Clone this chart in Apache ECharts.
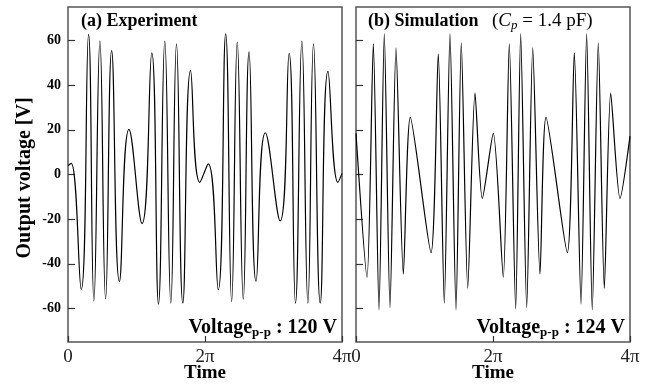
<!DOCTYPE html>
<html>
<head>
<meta charset="utf-8">
<script src="https://cdn.jsdelivr.net/npm/echarts@6/dist/echarts.min.js"></script>
<style>
  html, body { margin: 0; padding: 0; background: #fff; }
  #chart { width: 645px; height: 385px; }
</style>
</head>
<body>
<div id="chart"></div>
<script>
// time in units of pi, voltage in V (extrema of each trace)
const expTime = [0, 0.047, 0.193, 0.300, 0.378, 0.466, 0.549, 0.637, 0.750, 0.890, 1.081, 1.223, 1.321, 1.413, 1.501, 1.584, 1.676, 1.789, 1.925,
    2.047, 2.193, 2.302, 2.389, 2.471, 2.559, 2.643, 2.745, 2.881, 3.097, 3.228, 3.321, 3.414, 3.502, 3.584, 3.682, 3.795, 3.941, 4.0];
const expVolt = [4, 5, -51.5, 62.7, -56.6, 59.7, -55.7, 55.5, -47.9, 20.2, -22, 54.5, -58, 59.7, -57.6, 58.5, -57.6, 46.5, -3.5,
    4.8, -51.6, 63, -56.9, 59.3, -55.8, 54.9, -47.9, 18.7, -20.8, 54.2, -57.6, 59.7, -57.6, 58.5, -57.6, 46.2, -3.5, 0.5];

const simTime = [0, 0.161, 0.253, 0.336, 0.413, 0.496, 0.584, 0.691, 0.793, 1.095, 1.201, 1.289, 1.372, 1.460, 1.537, 1.631, 1.737, 1.844,
    2.004, 2.150, 2.238, 2.331, 2.404, 2.492, 2.580, 2.686, 2.774, 3.085, 3.187, 3.285, 3.367, 3.449, 3.537, 3.625, 3.718, 3.854, 4.0];
const simVolt = [18.4, -46, 58.5, -60.6, 63, -59.6, 56.7, -44.6, 25.6, -35, 54, -57.6, 63, -60.6, 59, -50.9, 36.4, -10.7,
    18.4, -46, 58.5, -60.2, 63, -59.6, 56.7, -44.6, 25.6, -35, 54.5, -58, 63, -60.6, 59, -50.9, 36.4, -10.7, 17.2];

const xTicks = [0, 2, 4];
const xTickLabels = ['0', '2π', '4π'];
const yTicks = [-60, -40, -20, 0, 20, 40, 60];

const serif = '"Liberation Serif", "DejaVu Serif", serif';

function pairs(xs, ys) {
    return xs.map((x, i) => [x, ys[i]]);
}

function makeX(gridIndex) {
    return {
        type: 'value',
        gridIndex: gridIndex,
        min: 0,
        max: 4,
        interval: 2,
        axisLine: { show: false, onZero: false },
        axisTick: { show: true, inside: true, length: 6, lineStyle: { color: '#333', width: 1.2 } },
        splitLine: { show: false },
        axisLabel: {
            margin: 6,
            fontFamily: serif,
            fontSize: 19,
            color: '#222',
            formatter: (v) => xTickLabels[xTicks.indexOf(v)],
        },
    };
}

function makeY(gridIndex, showLabels) {
    return {
        type: 'value',
        gridIndex: gridIndex,
        min: -75,
        max: 75,
        axisLine: { show: false, onZero: false },
        axisTick: { show: true, inside: true, length: 7, customValues: yTicks, lineStyle: { color: '#333', width: 1.2 } },
        splitLine: { show: false },
        axisLabel: {
            show: showLabels,
            customValues: yTicks,
            margin: 7,
            fontFamily: serif,
            fontSize: 14,
            fontWeight: 'bold',
            color: '#000',
        },
    };
}

const myChart = echarts.init(document.getElementById('chart'), null, { renderer: 'canvas' });

const subRich = {
    b: { fontFamily: serif, fontSize: 20, fontWeight: 'bold', color: '#000', lineHeight: 22, verticalAlign: 'middle' },
    s: { fontFamily: serif, fontSize: 13, fontWeight: 'bold', color: '#000', lineHeight: 12, verticalAlign: 'bottom' },
};

const option = {
    animation: false,
    backgroundColor: '#fff',
    grid: [
        { left: 68, top: 7, width: 274, height: 335, outerBoundsMode: 'none', show: true, borderColor: '#555', borderWidth: 1.5 },
        { left: 356, top: 7, width: 274, height: 335, outerBoundsMode: 'none', show: true, borderColor: '#555', borderWidth: 1.5 },
    ],
    xAxis: [makeX(0), makeX(1)],
    yAxis: [makeY(0, true), makeY(1, false)],
    series: [
        {
            type: 'line',
            xAxisIndex: 0,
            yAxisIndex: 0,
            data: pairs(expTime, expVolt),
            showSymbol: false,
            smooth: 0.5,
            lineStyle: { color: '#000', width: 1.2 },
        },
        {
            type: 'line',
            xAxisIndex: 1,
            yAxisIndex: 1,
            data: pairs(simTime, simVolt),
            showSymbol: false,
            smooth: 0.25,
            lineStyle: { color: '#000', width: 1.2 },
        },
    ],
    graphic: [
        {
            type: 'text',
            x: 25,
            y: 178,
            rotation: Math.PI / 2,
            style: { text: 'Output voltage [V]', font: 'bold 20px ' + serif, fill: '#000', align: 'center', verticalAlign: 'middle' },
        },
        {
            type: 'text',
            x: 205,
            y: 373,
            style: { text: 'Time', font: 'bold 19px ' + serif, fill: '#000', align: 'center', verticalAlign: 'middle' },
        },
        {
            type: 'text',
            x: 493,
            y: 373,
            style: { text: 'Time', font: 'bold 19px ' + serif, fill: '#000', align: 'center', verticalAlign: 'middle' },
        },
        {
            type: 'text',
            x: 81,
            y: 21,
            style: { text: '(a) Experiment', font: 'bold 18px ' + serif, fill: '#000', verticalAlign: 'middle' },
        },
        {
            type: 'text',
            x: 368,
            y: 21,
            style: { text: '(b) Simulation', font: 'bold 18px ' + serif, fill: '#000', verticalAlign: 'middle' },
        },
        {
            type: 'text',
            x: 492,
            y: 21,
            style: {
                text: '{n|(}{i|C}{is|p}{n| = 1.4 pF)}',
                verticalAlign: 'middle',
                rich: {
                    n: { fontFamily: serif, fontSize: 19, color: '#000', lineHeight: 22, verticalAlign: 'middle' },
                    i: { fontFamily: serif, fontSize: 19, fontStyle: 'italic', color: '#000', lineHeight: 22, verticalAlign: 'middle' },
                    is: { fontFamily: serif, fontSize: 13, fontStyle: 'italic', color: '#000', lineHeight: 12, verticalAlign: 'bottom' },
                },
            },
        },
        {
            type: 'text',
            x: 337,
            y: 339,
            style: { text: '{b|Voltage}{s|p-p}{b| : 120 V}', align: 'right', verticalAlign: 'bottom', rich: subRich },
        },
        {
            type: 'text',
            x: 625,
            y: 339,
            style: { text: '{b|Voltage}{s|p-p}{b| : 124 V}', align: 'right', verticalAlign: 'bottom', rich: subRich },
        },
    ],
};
myChart.setOption(option);
</script>
</body>
</html>
